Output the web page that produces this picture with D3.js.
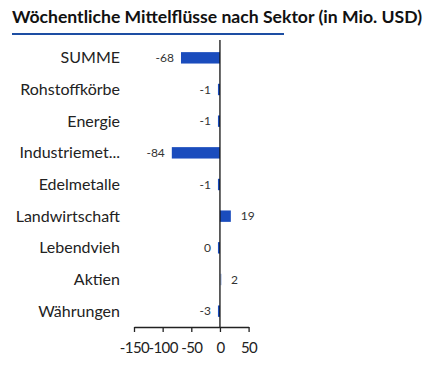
<!DOCTYPE html>
<html lang="de">
<head>
  <meta charset="UTF-8">
  <title>Wöchentliche Mittelflüsse nach Sektor</title>
  <script src="https://d3js.org/d3.v7.min.js"></script>
  <style>
    body { margin: 0; background: #fff; font-family: Lato, sans-serif; }
    .title { font-size: 17.6px; font-weight: bold; fill: #111; }
    .cat { font-size: 16px; fill: #222; text-anchor: end; }
    .val { font-size: 12px; fill: #333; }
    .axis text { font-size: 15px; fill: #222; font-family: Lato, sans-serif; letter-spacing: -0.6px; }
    .axis path, .axis line { stroke: #222; stroke-width: 1.3; }
  </style>
</head>
<body>
  <svg width="437" height="369"></svg>
  <script>
    const categories = ["SUMME", "Rohstoffkörbe", "Energie", "Industriemet...", "Edelmetalle",
                        "Landwirtschaft", "Lebendvieh", "Aktien", "Währungen"];
    const values = [-68, -1, -1, -84, -1, 19, -0.4, 2, -3];
    const ticks = [-150, -100, -50, 0, 50];

    const svg = d3.select("svg");

    // title + blue underline
    svg.append("text").attr("class", "title").attr("x", 12).attr("y", 23)
      .text("Wöchentliche Mittelflüsse nach Sektor (in Mio. USD)");
    svg.append("line").attr("x1", 12).attr("x2", 284).attr("y1", 34).attr("y2", 34)
      .attr("stroke", "#1d4ea3").attr("stroke-width", 2.2);

    const x = d3.scaleLinear().domain([-150, 50]).range([134, 248.6]);
    const y = d3.scaleBand().domain(categories).range([42, 327]).paddingInner(0.64).paddingOuter(0.32);

    const data = categories.map((c, i) => ({ cat: c, v: values[i] }));

    // bars
    svg.selectAll(".bar").data(data).enter().append("rect")
      .attr("class", "bar")
      .attr("x", d => d.v < 0 ? Math.min(x(d.v), x(0) - 2) : x(0))
      .attr("width", d => Math.max(2, Math.abs(x(d.v) - x(0))))
      .attr("y", d => y(d.cat))
      .attr("height", y.bandwidth())
      .attr("fill", d => d.v > 1 && d.v < 5 ? "#c9d6ef" : "#1a4cbd");

    // category labels
    svg.selectAll(".cat").data(data).enter().append("text")
      .attr("class", "cat")
      .attr("x", 120)
      .attr("y", d => y(d.cat) + y.bandwidth() / 2)
      .attr("dy", "0.35em")
      .text(d => d.cat);

    // value labels
    svg.selectAll(".val").data(data).enter().append("text")
      .attr("class", "val")
      .attr("x", d => d.v < 0 ? Math.min(x(d.v), x(0) - 2) - 7 : x(d.v) + 10)
      .attr("y", d => y(d.cat) + y.bandwidth() / 2)
      .attr("dy", "0.35em")
      .attr("text-anchor", d => d.v < 0 ? "end" : "start")
      .text(d => String(Math.round(d.v) || 0));

    // zero line
    svg.append("line").attr("x1", x(0)).attr("x2", x(0)).attr("y1", 40).attr("y2", 327)
      .attr("stroke", "#111").attr("stroke-width", 1.3);

    // x axis
    const axis = svg.append("g").attr("class", "axis")
      .attr("transform", "translate(0,327)")
      .call(d3.axisBottom(x).tickValues(ticks).tickFormat(d => String(d))
        .tickSize(5).tickSizeOuter(0).tickPadding(10));
    axis.selectAll("text").attr("dy", "0.71em");
  </script>
</body>
</html>
